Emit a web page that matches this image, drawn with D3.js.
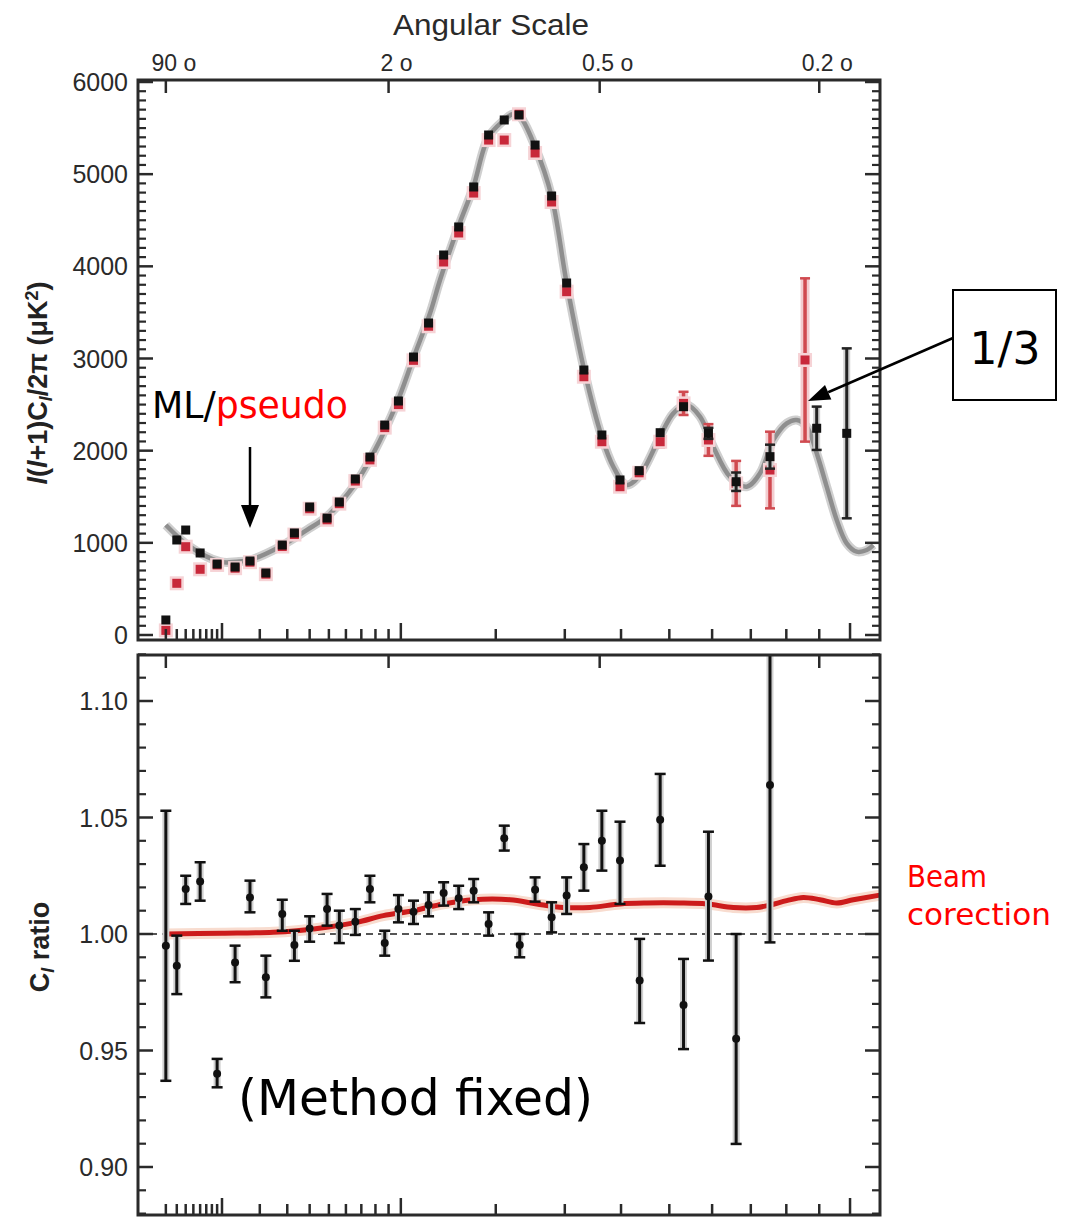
<!DOCTYPE html>
<html><head><meta charset="utf-8">
<script src="https://cdn.jsdelivr.net/npm/d3@7"></script>
<style>body{margin:0;background:#fff} svg{display:block}</style>
</head><body><svg id="c" width="1074" height="1224"></svg>
<script>
// ---------- DATA ----------
// ML (black) binned spectrum, top panel
const mlL = [2,3,4,6,9,13,17,22,28,33,40,49,56,66,76,87,98,111,125,140,156,173,191,211,231,254,279,303,332,364,398,436,480,532,591,661,753,892,989];
const mlV = [163,1031,1139,890,770,738,803,673,976,1107,1389,1269,1443,1693,1931,2278,2539,3016,3385,4123,4427,4861,5425,5588,5642,5316,4763,3819,2875,2170,1682,1783,2195,2477,2188,1663,1935,2243,2188];
const mlE = [20,20,20,20,20,20,20,20,20,20,20,20,20,20,20,20,20,20,20,25,25,25,25,25,25,25,25,25,25,30,30,30,35,40,60,100,130,235,922];
// pseudo-Cl (red) binned spectrum, top panel
const psL = [2,3,4,6,9,13,17,22,28,33,40,49,56,66,76,87,98,111,125,140,156,173,191,211,231,254,279,303,332,364,398,436,480,532,591,661,753,856];
const psV = [50,561,958,713,760,725,790,660,960,1090,1370,1250,1425,1670,1900,2250,2500,2980,3350,4047,4362,4795,5370,5370,5650,5230,4698,3725,2802,2097,1609,1760,2097,2513,2116,1645,1790,2984];
const psE = [20,20,20,20,20,20,20,20,20,20,20,20,20,20,20,20,20,20,20,25,25,25,25,25,25,25,25,25,30,30,35,40,60,126,172,244,416,886];
// model curve
const modelL = [2,4.54,9.59,13.4,17,27.1,38.6,48.8,64.7,78.4,96.6,110.8,126.4,136.3,155.6,172.6,190.6,209.8,222,232.3,253.9,279.1,303.1,333.9,363.7,385.3,411.1,437.7,479.6,508.9,539.3,570.6,602.9,645.1,689,725.1,762.5,801.2,830.9,861.1,892.1,923.6,956,988.8,1022.4,1056.8,1079.7];
const modelV = [1193,958,795,795,814,958,1139,1284,1609,1971,2514,3002,3490,3852,4430,4861,5400,5580,5650,5623,5298,4755,3816,2839,2152,1826,1627,1736,2152,2405,2495,2369,2043,1717,1609,1754,2116,2297,2333,2260,1971,1609,1248,995,904,922,976];
// ratio panel
const rL = [2,3,4,6,9,13,17,22,28,33,40,49,56,66,76,87,98,111,125,140,156,173,191,211,232,254,279,303,332,364,398,437,480,532,591,661,753];
const rV = [0.995,0.9864,1.0193,1.0225,0.940,0.9878,1.0157,0.9814,1.0086,0.9953,1.0024,1.0107,1.0036,1.0053,1.0193,0.9961,1.0107,1.0096,1.0124,1.0176,1.0153,1.0186,1.0043,1.0411,0.9953,1.019,1.0072,1.0165,1.0286,1.04,1.0315,0.98,1.049,0.9695,1.0161,0.955,1.064];
const rLo = [0.937,0.9742,1.0129,1.0143,0.9342,0.9793,1.0093,0.9728,1.0014,0.9885,0.9967,1.0036,0.9961,0.9996,1.0136,0.9907,1.005,1.0043,1.0076,1.0122,1.0107,1.0136,0.9993,1.0358,0.99,1.0139,1.0007,1.0086,1.0186,1.0272,1.0129,0.9618,1.0293,0.9506,0.9886,0.9099,0.9964];
const rHi = [1.0529,0.9993,1.025,1.0308,0.9464,0.995,1.0229,0.9907,1.0147,1.0014,1.0076,1.0172,1.01,1.0107,1.025,1.0014,1.0167,1.0143,1.0179,1.0222,1.0207,1.0236,1.0093,1.0465,1.0,1.0243,1.0136,1.0243,1.0386,1.0529,1.0482,0.9979,1.0687,0.9893,1.0439,1.0,1.14];
// beam correction curve
const beamL = [2,10,24.6,34,48.8,66.9,85.9,110.8,139.6,172.6,218.7,256.4,297.6,342.7,398.1,451.5,523.9,586.8,653.6,716.1,753,801.2,850.7,902.4,956,1011,1103];
const beamV = [1.0,1.0003,1.0007,1.0014,1.0029,1.005,1.0079,1.01,1.0129,1.0147,1.0147,1.0129,1.0114,1.0114,1.0129,1.0133,1.0133,1.0129,1.0114,1.0114,1.0124,1.0143,1.0157,1.0147,1.0133,1.0147,1.0167];
// ticks
const angDeg = [90,2,0.5,0.2];
const angLabels = ["90 o","2 o","0.5 o","0.2 o"];
const lMajor = [10,100,1000];
const lMinor = [2,3,4,5,6,7,8,9,20,30,40,50,60,70,80,90,200,300,400,500,600,700,800,900];
const topTicks = [0,1000,2000,3000,4000,5000,6000];
const botTicks = [0.90,0.95,1.00,1.05,1.10];

// ---------- LAYOUT ----------
const svg = d3.select("#c");
const X0 = 138, X1 = 880;
const P1 = {t:80, b:640}, P2 = {t:655, b:1215};
const x = d3.scalePow().exponent(0.4).domain([0.4524,1103.4]).range([X0,X1]);
const yT = d3.scaleLinear().domain([0,6000]).range([635,82]);
const yB = d3.scaleLinear().domain([0.90,1.10]).range([1167,701]);
const AX = "#2a2a2a";
const FONT = "'Liberation Sans', Arial, Helvetica, sans-serif";
const AFONT = "'DejaVu Sans', 'Noto Sans', sans-serif";

const defs = svg.append("defs");
defs.append("clipPath").attr("id","cp1").append("rect").attr("x",X0).attr("y",P1.t).attr("width",X1-X0).attr("height",P1.b-P1.t);
defs.append("clipPath").attr("id","cp2").append("rect").attr("x",X0).attr("y",P2.t).attr("width",X1-X0).attr("height",P2.b-P2.t);

function frame(P){
  svg.append("rect").attr("x",X0).attr("y",P.t).attr("width",X1-X0).attr("height",P.b-P.t)
    .attr("fill","none").attr("stroke",AX).attr("stroke-width",3);
}
function xTicks(P){
  const g = svg.append("g");
  const add = (vals,len,y0,dir)=>{
    g.selectAll(null).data(vals).enter().append("line")
      .attr("x1",d=>x(d)).attr("x2",d=>x(d)).attr("y1",y0).attr("y2",y0+dir*len)
      .attr("stroke",AX).attr("stroke-width",2.5);
  };
  add(lMinor,11,P.b,-1);
  add(lMajor,17,P.b,-1);
  add(angDeg.map(a=>180/a),13,P.t,1);
}
function yTicks(y,minor,major,minLen,majLen){
  const g = svg.append("g");
  [[X0,1],[X1,-1]].forEach(([x0,dir])=>{
    g.selectAll(null).data(minor).enter().append("line")
      .attr("x1",x0).attr("x2",x0+dir*minLen).attr("y1",d=>y(d)).attr("y2",d=>y(d))
      .attr("stroke",AX).attr("stroke-width",2.2);
    g.selectAll(null).data(major).enter().append("line")
      .attr("x1",x0).attr("x2",x0+dir*majLen).attr("y1",d=>y(d)).attr("y2",d=>y(d))
      .attr("stroke",AX).attr("stroke-width",2.5);
  });
}

// ---------- TOP PANEL ----------
const g1 = svg.append("g").attr("clip-path","url(#cp1)");
const line1 = d3.line().x(d=>x(d[0])).y(d=>yT(d[1])).curve(d3.curveCatmullRom.alpha(0.5));
const model = modelL.map((l,i)=>[l,modelV[i]]);
g1.append("path").attr("d",line1(model)).attr("fill","none").attr("stroke","#cfcfcf").attr("stroke-width",9);
g1.append("path").attr("d",line1(model)).attr("fill","none").attr("stroke","#8e8e8e").attr("stroke-width",4.5);

// pseudo (red)
const ps = psL.map((l,i)=>({l, v:psV[i], e:psE[i]}));
g1.selectAll(null).data(ps).enter().append("line")
  .attr("x1",d=>x(d.l)).attr("x2",d=>x(d.l)).attr("y1",d=>yT(d.v-d.e)).attr("y2",d=>yT(d.v+d.e))
  .attr("stroke","#f3cdd0").attr("stroke-width",9);
g1.selectAll(null).data(ps).enter().append("line")
  .attr("x1",d=>x(d.l)).attr("x2",d=>x(d.l)).attr("y1",d=>yT(d.v-d.e)).attr("y2",d=>yT(d.v+d.e))
  .attr("stroke","#d04a50").attr("stroke-width",3.5);
ps.forEach(d=>{ if(d.e>50){ [d.v-d.e,d.v+d.e].forEach(v=>{
  g1.append("line").attr("x1",x(d.l)-5).attr("x2",x(d.l)+5).attr("y1",yT(v)).attr("y2",yT(v)).attr("stroke","#d04a50").attr("stroke-width",2.5);});}});
g1.selectAll(null).data(ps).enter().append("rect")
  .attr("x",d=>x(d.l)-7).attr("y",d=>yT(d.v)-7).attr("width",14).attr("height",14)
  .attr("fill","#f6d3d6");
g1.selectAll(null).data(ps).enter().append("rect")
  .attr("x",d=>x(d.l)-4.5).attr("y",d=>yT(d.v)-4.5).attr("width",9).attr("height",9)
  .attr("fill","#c8283a");

// ML (black)
const ml = mlL.map((l,i)=>({l, v:mlV[i], e:mlE[i]}));
g1.selectAll(null).data(ml).enter().append("line")
  .attr("x1",d=>x(d.l)).attr("x2",d=>x(d.l)).attr("y1",d=>yT(d.v-d.e)).attr("y2",d=>yT(d.v+d.e))
  .attr("stroke","#d2d2d2").attr("stroke-width",7);
g1.selectAll(null).data(ml).enter().append("line")
  .attr("x1",d=>x(d.l)).attr("x2",d=>x(d.l)).attr("y1",d=>yT(d.v-d.e)).attr("y2",d=>yT(d.v+d.e))
  .attr("stroke","#222").attr("stroke-width",3);
ml.forEach(d=>{ if(d.e>50){ [d.v-d.e,d.v+d.e].forEach(v=>{
  g1.append("line").attr("x1",x(d.l)-5).attr("x2",x(d.l)+5).attr("y1",yT(v)).attr("y2",yT(v)).attr("stroke","#222").attr("stroke-width",2.5);});}});
g1.selectAll(null).data(ml).enter().append("rect")
  .attr("x",d=>x(d.l)-4.5).attr("y",d=>yT(d.v)-4.5).attr("width",9).attr("height",9)
  .attr("fill","#111");

frame(P1);
xTicks(P1);
yTicks(yT, d3.range(0,6001,100).filter(v=>v%1000!==0), topTicks, 8, 15);

// top-left labels
svg.append("g").selectAll(null).data(topTicks).enter().append("text")
  .attr("x",128).attr("y",d=>yT(d)+9).attr("text-anchor","end")
  .attr("font-family",FONT).attr("font-size",25).attr("fill","#2a2a2a").text(d=>d);
// angular labels
svg.append("g").selectAll(null).data(angDeg).enter().append("text")
  .attr("x",d=>x(180/d)+8).attr("y",71).attr("text-anchor","middle")
  .attr("font-family",FONT).attr("font-size",23).attr("fill","#2a2a2a").text((d,i)=>angLabels[i]);
svg.append("text").attr("x",491).attr("y",35).attr("text-anchor","middle")
  .attr("font-family",FONT).attr("font-size",29).attr("fill","#2a2a2a")
  .attr("textLength",196).attr("lengthAdjust","spacingAndGlyphs").text("Angular Scale");
// y title top
const yt = svg.append("text").attr("transform","translate(47,383) rotate(-90)").attr("text-anchor","middle")
  .attr("font-family",FONT).attr("font-size",27).attr("font-weight","bold").attr("fill","#222");
yt.append("tspan").attr("font-style","italic").text("l");
yt.append("tspan").text("(");
yt.append("tspan").attr("font-style","italic").text("l");
yt.append("tspan").text("+1)C");
yt.append("tspan").attr("font-style","italic").attr("font-size",18).attr("dy",5).text("l");
yt.append("tspan").attr("dy",-5).text("/2\u03c0 (\u03bcK");
yt.append("tspan").attr("font-size",18).attr("dy",-9).text("2");
yt.append("tspan").attr("dy",9).text(")");

// ---------- BOTTOM PANEL ----------
const g2 = svg.append("g").attr("clip-path","url(#cp2)");
g2.append("line").attr("x1",X0).attr("x2",X1).attr("y1",yB(1)).attr("y2",yB(1))
  .attr("stroke","#555").attr("stroke-width",2).attr("stroke-dasharray","7,5");
const beam = beamL.map((l,i)=>[l,beamV[i]]);
const line2 = d3.line().x(d=>x(d[0])).y(d=>yB(d[1])).curve(d3.curveCatmullRom.alpha(0.5));
g2.append("path").attr("d",line2(beam)).attr("fill","none").attr("stroke","#f8dccf").attr("stroke-width",11);
g2.append("path").attr("d",line2(beam)).attr("fill","none").attr("stroke","#cc1b1b").attr("stroke-width",5);

const rr = rL.map((l,i)=>({l, v:rV[i], lo:rLo[i], hi:rHi[i]}));
g2.selectAll(null).data(rr).enter().append("line")
  .attr("x1",d=>x(d.l)).attr("x2",d=>x(d.l)).attr("y1",d=>yB(d.lo)).attr("y2",d=>yB(d.hi))
  .attr("stroke","#cfcfcf").attr("stroke-width",7);
g2.selectAll(null).data(rr).enter().append("line")
  .attr("x1",d=>x(d.l)).attr("x2",d=>x(d.l)).attr("y1",d=>yB(d.lo)).attr("y2",d=>yB(d.hi))
  .attr("stroke","#111").attr("stroke-width",3);
rr.forEach(d=>{ [d.lo,d.hi].forEach(v=>{
  g2.append("line").attr("x1",x(d.l)-5.5).attr("x2",x(d.l)+5.5).attr("y1",yB(v)).attr("y2",yB(v)).attr("stroke","#111").attr("stroke-width",2.5);});});
g2.selectAll(null).data(rr).enter().append("circle")
  .attr("cx",d=>x(d.l)).attr("cy",d=>yB(d.v)).attr("r",4).attr("fill","#111");

frame(P2);
xTicks(P2);
yTicks(yB, d3.range(88,113,1).map(v=>v/100).filter(v=>Math.round(v*100)%5!==0), botTicks, 8, 15);
svg.append("g").selectAll(null).data(botTicks).enter().append("text")
  .attr("x",128).attr("y",d=>yB(d)+9).attr("text-anchor","end")
  .attr("font-family",FONT).attr("font-size",25).attr("fill","#2a2a2a").text(d=>d.toFixed(2));
const yb = svg.append("text").attr("transform","translate(49,947) rotate(-90)").attr("text-anchor","middle")
  .attr("font-family",FONT).attr("font-size",27).attr("font-weight","bold").attr("fill","#222");
yb.append("tspan").text("C");
yb.append("tspan").attr("font-style","italic").attr("font-size",18).attr("dy",5).text("l");
yb.append("tspan").attr("dy",-5).text(" ratio");

// ---------- ANNOTATIONS ----------
const ml1 = svg.append("text").attr("x",152).attr("y",418).attr("font-family",AFONT).attr("font-size",37)
  .attr("textLength",196).attr("lengthAdjust","spacingAndGlyphs");
ml1.append("tspan").attr("fill","#000").text("ML/");
ml1.append("tspan").attr("fill","#ff0000").text("pseudo");
svg.append("line").attr("x1",250).attr("x2",250).attr("y1",447).attr("y2",508).attr("stroke","#000").attr("stroke-width",2.5);
svg.append("path").attr("d","M241,505 L259,505 L250,528 Z").attr("fill","#000");

svg.append("rect").attr("x",953).attr("y",290).attr("width",103).attr("height",110)
  .attr("fill","#fff").attr("stroke","#000").attr("stroke-width",2);
svg.append("text").attr("x",1005).attr("y",364).attr("text-anchor","middle").attr("font-family",AFONT)
  .attr("font-size",44).attr("fill","#000").text("1/3");
(function(){
  const x1=953,y1=338,x2=808,y2=401;
  const dx=x2-x1, dy=y2-y1, L=Math.hypot(dx,dy), ux=dx/L, uy=dy/L;
  const bx=x2-ux*22, by=y2-uy*22;
  svg.append("line").attr("x1",x1).attr("y1",y1).attr("x2",bx).attr("y2",by).attr("stroke","#000").attr("stroke-width",2.5);
  svg.append("path").attr("d",`M${x2},${y2} L${bx-uy*8},${by+ux*8} L${bx+uy*8},${by-ux*8} Z`).attr("fill","#000");
})();

svg.append("text").attr("x",907).attr("y",887).attr("font-family",AFONT).attr("font-size",30)
  .attr("fill","#ff0000").attr("textLength",80).attr("lengthAdjust","spacingAndGlyphs").text("Beam");
svg.append("text").attr("x",907).attr("y",925).attr("font-family",AFONT).attr("font-size",30)
  .attr("fill","#ff0000").attr("textLength",144).attr("lengthAdjust","spacingAndGlyphs").text("corection");
svg.append("text").attr("x",238).attr("y",1115).attr("font-family",AFONT).attr("font-size",50)
  .attr("fill","#000").attr("textLength",355).attr("lengthAdjust","spacingAndGlyphs").text("(Method fixed)");
</script></body></html>
